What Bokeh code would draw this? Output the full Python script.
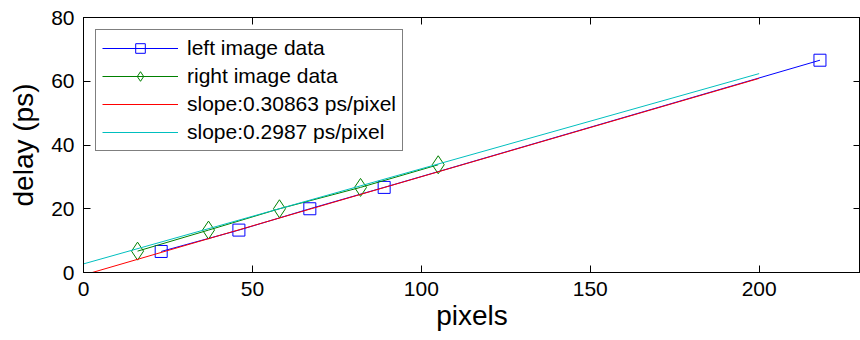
from bokeh.plotting import figure
from bokeh.models import Range1d, FixedTicker, LinearAxis, Legend, LegendItem
from bokeh.embed import file_html
from bokeh.resources import INLINE

# data
left_x = [23, 46, 67, 89, 218]
left_y = [6.6, 13.3, 20.0, 26.7, 66.6]
right_x = [16, 37, 58, 82, 105]
right_y = [6.7, 13.3, 20.0, 26.7, 33.8]
fit_left_x = [0, 200]
fit_left_y = [-0.8, 60.9]
fit_right_x = [0, 200]
fit_right_y = [2.7, 62.4]
x_ticks = [0, 50, 100, 150, 200]
y_ticks = [0, 20, 40, 60, 80]
labels = ["left image data", "right image data",
          "slope:0.30863 ps/pixel", "slope:0.2987 ps/pixel"]

FONT = "Liberation Sans"

p = figure(width=860, height=340, output_backend="svg", toolbar_location=None,
           x_range=Range1d(0, 230), y_range=Range1d(0, 80),
           min_border_left=83, min_border_right=0, min_border_top=17,
           min_border_bottom=68, x_axis_location=None, y_axis_location=None)
p.xgrid.visible = False
p.ygrid.visible = False
p.outline_line_color = "black"
p.outline_line_width = 1
p.background_fill_color = "white"
p.border_fill_color = "white"


def style_axis(ax, show_labels):
    ax.major_tick_in = 7
    ax.major_tick_out = 0
    ax.minor_tick_line_color = None
    ax.axis_line_color = "black"
    ax.major_tick_line_color = "black"
    ax.major_label_text_font = FONT
    if show_labels:
        ax.major_label_text_color = "black"
        ax.major_label_text_font_size = "21px"
        ax.major_label_standoff = 9
    else:
        ax.major_label_text_color = None
        ax.major_label_text_font_size = "1px"
        ax.major_label_standoff = 0


xb = LinearAxis(ticker=FixedTicker(ticks=x_ticks), axis_label="pixels")
style_axis(xb, True)
xb.axis_label_text_font = FONT
xb.axis_label_text_font_size = "28px"
xb.axis_label_text_font_style = "normal"
xb.axis_label_text_color = "black"
xb.axis_label_standoff = 1
p.add_layout(xb, "below")

yl = LinearAxis(ticker=FixedTicker(ticks=y_ticks), axis_label="delay (ps)")
style_axis(yl, True)
yl.axis_label_text_font = FONT
yl.axis_label_text_font_size = "28px"
yl.axis_label_text_font_style = "normal"
yl.axis_label_text_color = "black"
yl.axis_label_standoff = 9
p.add_layout(yl, "left")

xt = LinearAxis(ticker=FixedTicker(ticks=x_ticks))
style_axis(xt, False)
p.add_layout(xt, "above")

yr = LinearAxis(ticker=FixedTicker(ticks=y_ticks))
style_axis(yr, False)
p.add_layout(yr, "right")

bl = p.line(left_x, left_y, line_color="#0000ff", line_width=1)
bs = p.scatter(left_x, left_y, marker="square", size=12, fill_color=None,
               line_color="#0000ff", line_width=1)
gl = p.line(right_x, right_y, line_color="#008000", line_width=1)
gs = p.scatter(right_x, right_y, marker="diamond", size=18,
               fill_color=None, line_color="#008000", line_width=1)
rl = p.line(fit_left_x, fit_left_y, line_color="#ff0000", line_width=1)
cl = p.line(fit_right_x, fit_right_y, line_color="#00bfbf", line_width=1)

legend = Legend(items=[
    LegendItem(label=labels[0], renderers=[bl, bs]),
    LegendItem(label=labels[1], renderers=[gl, gs]),
    LegendItem(label=labels[2], renderers=[rl]),
    LegendItem(label=labels[3], renderers=[cl]),
], location="top_left")
legend.margin = 12
legend.padding = 6
legend.spacing = 4
legend.glyph_width = 76
legend.glyph_height = 24
legend.label_height = 24
legend.label_standoff = 9
legend.label_text_font = FONT
legend.label_text_font_size = "21px"
legend.label_text_color = "black"
legend.border_line_color = "black"
legend.border_line_width = 1
legend.background_fill_color = "white"
legend.background_fill_alpha = 1.0
p.add_layout(legend, "center")

open("out.html", "w").write(file_html(p, INLINE))
